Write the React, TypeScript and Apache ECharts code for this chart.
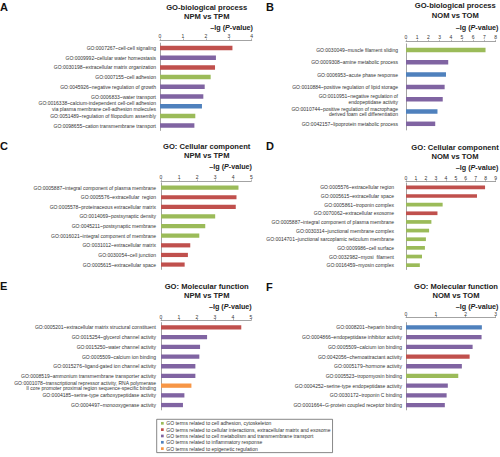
import React, { useEffect, useRef } from "react";
import * as echarts from "echarts";

const FONT = '"Liberation Sans", Arial, sans-serif';

const GROUP_NAMES = [
  "GO terms related to cell adhesion, cytoskeleton",
  "GO terms related to cellular interactions, extracellular matrix and exosome",
  "GO terms related to cell metabolism and transmembrane transport",
  "GO terms related to inflammatory response",
  "GO terms related to epigenetic regulation",
];
const GROUP_COLORS = ["#9bbb59", "#c0504d", "#8064a2", "#4f81bd", "#f79646"];

const A_LABELS = [
  "GO:0007267~cell-cell signaling",
  "GO:0009992~cellular water homeostasis",
  "GO:0030198~extracellular matrix organization",
  "GO:0007155~cell adhesion",
  "GO:0045926~negative regulation of growth",
  "GO:0006833~water transport",
  "GO:0016338~calcium-independent cell-cell adhesion\nvia plasma membrane cell-adhesion molecules",
  "GO:0051489~regulation of filopodium assembly",
  "GO:0098655~cation transmembrane transport",
];
const A_VALUES = [3.16, 2.44, 2.4, 2.21, 1.95, 1.89, 1.83, 1.54, 1.5];
const A_GROUPS = [1, 2, 1, 0, 2, 2, 3, 0, 2];

const B_LABELS = [
  "GO:0030049~muscle filament sliding",
  "GO:0009308~amine metabolic process",
  "GO:0006953~acute phase response",
  "GO:0010884~positive regulation of lipid storage",
  "GO:0010951~negative regulation of\nendopeptidase activity",
  "GO:0010744~positive regulation of macrophage\nderived foam cell differentiation",
  "GO:0042157~lipoprotein metabolic process",
];
const B_VALUES = [7.1, 3.77, 3.57, 3.45, 3.28, 2.81, 2.61];
const B_GROUPS = [0, 2, 3, 2, 2, 3, 2];

const C_LABELS = [
  "GO:0005887~integral component of plasma membrane",
  "GO:0005576~extracellular  region",
  "GO:0005578~proteinaceous extracellular matrix",
  "GO:0014069~postsynaptic density",
  "GO:0045211~postsynaptic membrane",
  "GO:0016021~integral component of membrane",
  "GO:0031012~extracellular matrix",
  "GO:0030054~cell junction",
  "GO:0005615~extracellular space",
];
const C_VALUES = [4.29, 4.18, 4.14, 3.0, 2.45, 2.12, 1.62, 1.49, 1.31];
const C_GROUPS = [0, 1, 1, 0, 0, 0, 1, 1, 1];

const D_LABELS = [
  "GO:0005576~extracellular region",
  "GO:0005615~extracellular space",
  "GO:0005861~troponin complex",
  "GO:0070062~extracellular exosome",
  "GO:0005887~integral component of plasma membrane",
  "GO:0030314~junctional membrane complex",
  "GO:0014701~junctional sarcoplamic reticulum membrane",
  "GO:0009986~cell surface",
  "GO:0032982~myosi  filament",
  "GO:0016459~myosin complex",
];
const D_VALUES = [7.94, 7.13, 3.68, 3.16, 2.55, 2.32, 2.0, 1.9, 1.61, 1.39];
const D_GROUPS = [1, 1, 0, 1, 0, 0, 0, 0, 0, 0];

const E_LABELS = [
  "GO:0005201~extracellular matrix structural constituent",
  "GO:0015254~glycerol channel activity",
  "GO:0015250~water channel activity",
  "GO:0005509~calcium ion binding",
  "GO:0015276~ligand-gated ion channel activity",
  "GO:0008519~ammonium transmembrane transporter activity",
  "GO:0001078~transcriptional repressor activity, RNA polymerase\nII core promoter proximal region sequence-specific binding",
  "GO:0004185~serine-type carboxypeptidase activity",
  "GO:0004497~monooxygenase activity",
];
const E_VALUES = [4.46, 2.56, 2.17, 2.13, 1.91, 1.91, 1.69, 1.3, 1.22];
const E_GROUPS = [1, 2, 2, 2, 2, 2, 4, 2, 2];

const F_LABELS = [
  "GO:0008201~heparin binding",
  "GO:0004866~endopeptidase inhibitor activity",
  "GO:0005509~calcium ion binding",
  "GO:0042056~chemoattractant activity",
  "GO:0005179~hormone activity",
  "GO:0005523~tropomyosin binding",
  "GO:0004252~serine-type endopeptidase activity",
  "GO:0030172~troponin C binding",
  "GO:0001664~G-protein coupled receptor binding",
];
const F_VALUES = [2.54, 2.53, 2.23, 2.13, 1.87, 1.75, 1.4, 1.36, 1.3];
const F_GROUPS = [3, 2, 2, 1, 2, 0, 2, 2, 2];

const PANELS = [
  { letter: "A", title: ["GO-biological process", "NPM vs TPM"], labels: A_LABELS, values: A_VALUES, groups: A_GROUPS, max: 4 },
  { letter: "B", title: ["GO-biological process", "NOM vs TOM"], labels: B_LABELS, values: B_VALUES, groups: B_GROUPS, max: 8 },
  { letter: "C", title: ["GO: Cellular component", "NPM vs TPM"], labels: C_LABELS, values: C_VALUES, groups: C_GROUPS, max: 5 },
  { letter: "D", title: ["GO: Cellular component", "NOM vs TOM"], labels: D_LABELS, values: D_VALUES, groups: D_GROUPS, max: 9 },
  { letter: "E", title: ["GO: Molecular function", "NPM vs TPM"], labels: E_LABELS, values: E_VALUES, groups: E_GROUPS, max: 5 },
  { letter: "F", title: ["GO: Molecular function", "NOM vs TOM"], labels: F_LABELS, values: F_VALUES, groups: F_GROUPS, max: 3 },
];

const LAYOUT = [
  { left: 160, width: 91.7, top: 43.15, band: 9.7, axisY: 40, margin: 4, barW: 4.5, lx: 0, ly: 1, cx: 206.7, t1: 7.7, t2: 16, lgY: 27.3, lgX: 253 },
  { left: 406, width: 92, top: 43.85, band: 12.3, axisY: 41.3, margin: 8, barW: 4.5, lx: 266, ly: 1.5, cx: 455.3, t1: 5.7, t2: 15, lgY: 27.3, lgX: 498.5 },
  { left: 161, width: 90.3, top: 182.8, band: 9.62, axisY: 181, margin: 5, barW: 4.2, lx: 0, ly: 140, cx: 206.7, t1: 146.7, t2: 155, lgY: 166.7, lgX: 252 },
  { left: 406, width: 92.3, top: 183, band: 8.65, axisY: 181.7, margin: 12, barW: 3.7, lx: 266, ly: 140.5, cx: 455, t1: 147.7, t2: 156, lgY: 167.3, lgX: 498.5 },
  { left: 161, width: 90, top: 322.6, band: 9.7, axisY: 320.5, margin: 5, barW: 4.3, lx: 0, ly: 280, cx: 206.7, t1: 286.7, t2: 295, lgY: 306, lgX: 251.7 },
  { left: 406, width: 92.3, top: 322.6, band: 9.7, axisY: 317.5, margin: 4, barW: 4.3, lx: 266, ly: 281.5, cx: 456, t1: 286.7, t2: 295, lgY: 306, lgX: 498.5 },
];

const AXIS_COLOR = "#8c8c8c";
const LABEL_COLOR = "#333";
const TITLE_FONT = `bold 7.6px ${FONT}`;
const LG_FONT = `bold 7.2px ${FONT}`;

function buildOption() {
  const grid = PANELS.map((p, i) => ({
    left: LAYOUT[i].left,
    top: LAYOUT[i].top,
    width: LAYOUT[i].width,
    height: LAYOUT[i].band * p.labels.length,
  }));
  const xAxis = PANELS.map((p, i) => ({
    gridIndex: i,
    type: "value",
    position: "top",
    min: 0,
    max: p.max,
    interval: 1,
    offset: LAYOUT[i].top - LAYOUT[i].axisY,
    axisLine: { show: true, lineStyle: { color: AXIS_COLOR, width: 0.8 } },
    axisTick: { show: true, length: 1.5, lineStyle: { color: AXIS_COLOR, width: 0.6 } },
    axisLabel: { fontSize: 5, margin: 1.5, color: LABEL_COLOR, fontFamily: FONT },
    splitLine: { show: false },
  }));
  const yAxis = PANELS.map((p, i) => ({
    gridIndex: i,
    type: "category",
    inverse: true,
    data: p.labels,
    axisLine: { show: true, lineStyle: { color: AXIS_COLOR, width: 0.8 } },
    axisTick: { show: false },
    axisLabel: {
      interval: 0,
      fontSize: 5,
      lineHeight: 5.6,
      margin: LAYOUT[i].margin,
      color: LABEL_COLOR,
      fontFamily: FONT,
    },
  }));
  const series: any[] = [];
  PANELS.forEach((p, i) => {
    GROUP_NAMES.forEach((name, g) => {
      if (!p.groups.includes(g)) return;
      series.push({
        type: "bar",
        name,
        xAxisIndex: i,
        yAxisIndex: i,
        stack: "s" + i,
        barWidth: LAYOUT[i].barW,
        itemStyle: { color: GROUP_COLORS[g] },
        data: p.values.map((v, k) => (p.groups[k] === g ? v : "-")),
      });
    });
  });
  const graphic: any[] = [];
  PANELS.forEach((p, i) => {
    const l = LAYOUT[i];
    graphic.push({
      type: "text",
      x: l.lx,
      y: l.ly,
      style: { text: p.letter, font: `bold 11px ${FONT}`, fill: "#111", verticalAlign: "top" },
    });
    graphic.push({
      type: "text",
      x: l.cx,
      y: l.t1,
      style: { text: p.title[0], font: TITLE_FONT, fill: "#222", align: "center", verticalAlign: "middle" },
    });
    graphic.push({
      type: "text",
      x: l.cx,
      y: l.t2,
      style: { text: p.title[1], font: TITLE_FONT, fill: "#222", align: "center", verticalAlign: "middle" },
    });
    graphic.push({
      type: "text",
      x: l.lgX,
      y: l.lgY,
      style: {
        text: "–lg ({i|P}-value)",
        font: LG_FONT,
        fill: "#222",
        align: "right",
        verticalAlign: "middle",
        rich: { i: { fontStyle: "italic", fontWeight: "bold", fontSize: 7.2, fontFamily: FONT, fill: "#222" } },
      },
    });
  });
  return {
    animation: false,
    grid,
    xAxis,
    yAxis,
    series,
    graphic,
    legend: {
      orient: "vertical",
      left: 156.7,
      top: 419.3,
      itemWidth: 2.7,
      itemHeight: 2.7,
      itemGap: 1.33,
      icon: "rect",
      selectedMode: false,
      padding: [1.5, 2, 1.5, 4.3],
      borderColor: "#555",
      borderWidth: 0.7,
      data: GROUP_NAMES,
      textStyle: { fontSize: 5, lineHeight: 5, color: LABEL_COLOR, fontFamily: FONT, padding: [0, 0, 0, -2.4] },
    },
  };
}

export default function App() {
  const ref = useRef<HTMLDivElement>(null);
  useEffect(() => {
    if (!ref.current) return;
    const chart = echarts.init(ref.current, undefined, { renderer: "svg" });
    chart.setOption(buildOption() as any);
    return () => chart.dispose();
  }, []);
  return (
    <div
      ref={ref}
      style={{ position: "fixed", left: 0, top: 0, width: 500, height: 457, background: "#fff" }}
    />
  );
}
